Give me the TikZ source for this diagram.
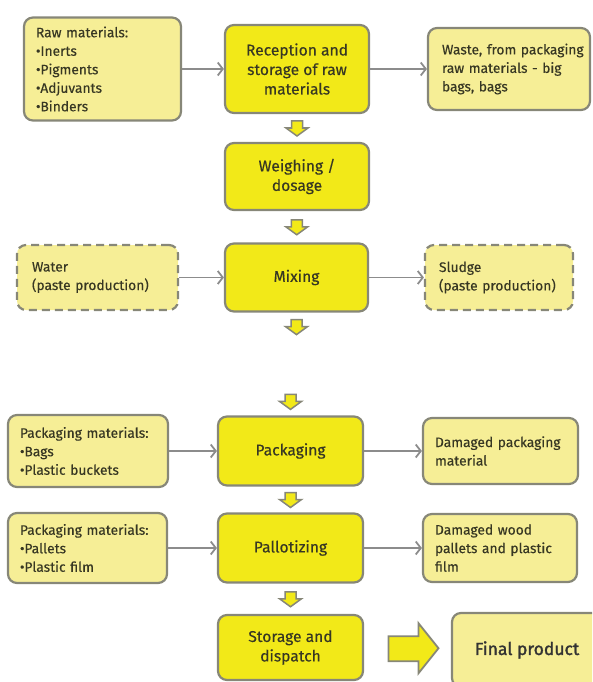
\documentclass[tikz,border=0pt]{standalone}
\usepackage{fontspec}
\setmainfont{Fira Sans}
\newfontfamily\medfont{Fira Sans}[FakeBold=0.35]
\newfontfamily\semifont{Fira Sans}[FakeBold=1.6]
\usetikzlibrary{arrows.meta,calc}
\definecolor{mainY}{RGB}{242,233,24}
\definecolor{paleY}{RGB}{246,238,150}
\definecolor{edgeG}{RGB}{135,135,120}
\definecolor{txtC}{RGB}{55,55,35}
\definecolor{connG}{RGB}{140,140,140}
\newcommand\lin[1]{\mbox{#1}}
\begin{document}
\begin{tikzpicture}[x=1pt,y=-1pt,
  box/.style={draw=edgeG, line width=2.2pt, rounded corners=9pt, inner sep=0pt, text=txtC},
  mainbox/.style={box, fill=mainY, align=center, minimum width=144pt,
    font=\medfont\fontsize{15.6}{19.5}\selectfont},
  sidebox/.style={box, fill=paleY, align=left, font=\medfont\fontsize{13.8}{18.5}\selectfont},
  dashbox/.style={sidebox, dash pattern=on 8pt off 5pt},
  flow/.style={draw=connG, line width=1.8pt, -{Straight Barb[length=5pt,width=13pt,line width=1.8pt]}},
  blk/.style={draw=edgeG, fill=mainY, line width=1.5pt, line join=miter},
  downarr/.pic={\path[blk] (-5.5,-7) -- (5.5,-7) -- (5.5,0) -- (11,0) -- (0,8) -- (-11,0) -- (-5.5,0) -- cycle;}
]
\useasboundingbox (0,0) rectangle (592,682);
\clip (0,0) rectangle (592,682);

% main column
\node[mainbox, minimum height=88pt] (rec) at (297,69) {Reception and\\storage of raw\\materials};
\node[mainbox, minimum height=67pt] (wei) at (297,176.5) {Weighing /\\dosage};
\node[mainbox, minimum height=68pt, minimum width=143pt] (mix) at (296.5,277.5) {Mixing};
\node[mainbox, minimum height=69pt, minimum width=145pt] (pack) at (290.5,451) {Packaging};
\node[mainbox, minimum height=69pt, minimum width=145pt] (pal) at (290.5,548) {Pallotizing};
\node[mainbox, minimum height=65pt, minimum width=145pt] (sto) at (290.5,647.5) {Storage and\\dispatch};

% left column
\node[sidebox, minimum width=157pt, minimum height=103pt, text width=133pt] (raw) at (102.5,69)
  {\lin{Raw materials:}\\\lin{•Inerts}\\\lin{•Pigments}\\\lin{•Adjuvants}\\\lin{•Binders}};
\node[dashbox, minimum width=161pt, minimum height=65pt, text width=131pt] (water) at (97.5,277.5)
  {\lin{Water}\\\lin{(paste production)}};
\node[sidebox, minimum width=160pt, minimum height=72pt, text width=136pt] (pm1) at (88,451)
  {\lin{Packaging materials:}\\\lin{•Bags}\\\lin{•Plastic buckets}};
\node[sidebox, minimum width=159pt, minimum height=70pt, text width=135pt] (pm2) at (87.5,548)
  {\lin{Packaging materials:}\\\lin{•Pallets}\\\lin{•Plastic film}};

% right column
\node[sidebox, minimum width=162pt, minimum height=82pt, text width=134pt] (waste) at (509,69)
  {\lin{Waste, from packaging}\\\lin{raw materials - big}\\\lin{bags, bags}};
\node[dashbox, minimum width=148pt, minimum height=65pt, text width=120pt] (sludge) at (499,277.5)
  {\lin{Sludge}\\\lin{(paste production)}};
\node[sidebox, minimum width=155pt, minimum height=66pt, text width=131pt] (dp) at (500.5,451)
  {\lin{Damaged packaging}\\\lin{material}};
\node[sidebox, minimum width=154pt, minimum height=68pt, text width=130pt] (dw) at (500,548)
  {\lin{Damaged wood}\\\lin{pallets and plastic}\\\lin{film}};
\node[box, fill=paleY, minimum width=150pt, minimum height=74pt, text=black!80,
  font=\semifont\fontsize{17.5}{20}\selectfont] (final) at (527,650) {Final product};

% horizontal connectors
\draw[flow] (raw) -- (rec);
\draw[flow] (rec) -- (waste);
\draw[flow] (water) -- (mix);
\draw[flow] (mix) -- (sludge);
\draw[flow] (pm1) -- (pack);
\draw[flow] (pack) -- (dp);
\draw[flow] (pm2) -- (pal);
\draw[flow] (pal) -- (dw);

% block arrows
\pic at ($(rec.south)!0.5!(wei.north)$) {downarr};
\pic at ($(wei.south)!0.5!(mix.north)$) {downarr};
\pic at ($(mix.south)+(0,14)$) {downarr};
\pic at ($(pack.north)+(0,-14)$) {downarr};
\pic at ($(pack.south)!0.5!(pal.north)$) {downarr};
\pic at ($(pal.south)!0.5!(sto.north)$) {downarr};

% big arrow to final product
\coordinate (ba) at ($(sto.east)!0.5!(final.west)$);
\fill[gray!60, opacity=0.6, shift={(2,2)}] ($(ba)+(-19,-12.5)$) -- ++(30,0) -- ++(0,-13) -- ++(20,25) -- ++(-20,25) -- ++(0,-12) -- ++(-30,0) -- cycle;
\path[blk, line width=1.8pt] ($(ba)+(-19,-12.5)$) -- ++(30,0) -- ++(0,-13) -- ++(20,25) -- ++(-20,25) -- ++(0,-12) -- ++(-30,0) -- cycle;
\end{tikzpicture}
\end{document}
